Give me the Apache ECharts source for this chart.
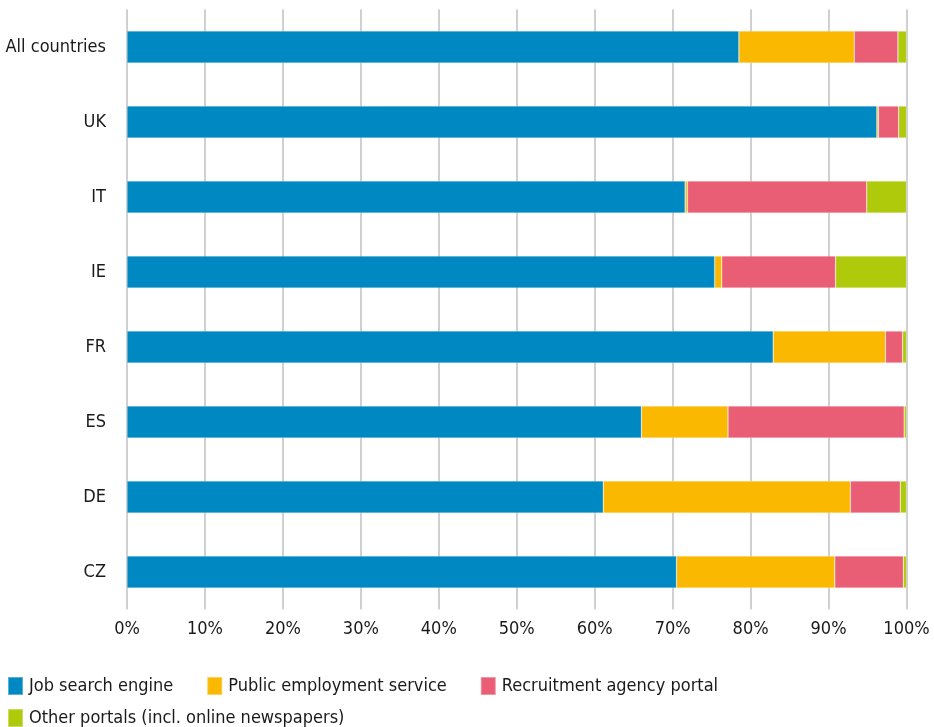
<!DOCTYPE html>
<html>
<head>
<meta charset="utf-8">
<script src="https://cdn.jsdelivr.net/npm/echarts@6/dist/echarts.min.js"></script>
<style>
html,body{margin:0;padding:0;background:#fff;}
#c{width:934px;height:727px;}
</style>
</head>
<body>
<div id="c"></div>
<script>
const categories = ['All countries', 'UK', 'IT', 'IE', 'FR', 'ES', 'DE', 'CZ'];
const jobSearchEngine = [78.5, 96.2, 71.6, 75.4, 82.9, 66.0, 61.1, 70.5];
const publicEmployment = [14.8, 0.2, 0.3, 0.9, 14.4, 11.1, 31.7, 20.3];
const recruitmentAgency = [5.6, 2.6, 23.0, 14.6, 2.2, 22.6, 6.4, 8.8];
const otherPortals = [1.1, 1.0, 5.1, 9.1, 0.5, 0.3, 0.8, 0.4];
const seriesNames = ['Job search engine', 'Public employment service', 'Recruitment agency portal', 'Other portals (incl. online newspapers)'];
const colors = ['#0088c3', '#fab900', '#ea5e75', '#afca0b'];

const font = "'Liberation Sans Narrow', 'DejaVu Sans Condensed', 'Roboto', sans-serif";
const chart = echarts.init(document.getElementById('c'), null, {renderer: 'canvas'});
const data = [jobSearchEngine, publicEmployment, recruitmentAgency, otherPortals];
const series = data.map((d, i) => ({
  name: seriesNames[i],
  type: 'bar',
  stack: 'total',
  barWidth: 32,
  data: d,
  itemStyle: {color: colors[i], borderColor: 'rgba(255,255,255,0.35)', borderWidth: 0.6},
  emphasis: {disabled: true}
}));
chart.setOption({
  animation: false,
  textStyle: {fontFamily: font},
  grid: {left: 127, right: 27.5, top: 9.5, height: 600, containLabel: false},
  xAxis: {
    type: 'value', min: 0, max: 100, interval: 10,
    axisLine: {show: false}, axisTick: {show: false},
    axisLabel: {formatter: '{value}%', fontSize: 18, color: '#1a1a1a', margin: 11, fontFamily: font},
    splitLine: {show: true, lineStyle: {color: '#d0d0d0', width: 2}}
  },
  yAxis: {
    type: 'category', data: categories, inverse: true,
    axisLine: {show: false}, axisTick: {show: false},
    axisLabel: {fontSize: 18, color: '#1a1a1a', margin: 21, fontFamily: font}
  },
  legend: [
    {
      data: seriesNames.slice(0, 3), left: 7, top: 676, padding: 0, itemWidth: 15, itemHeight: 18, itemGap: 33,
      icon: 'rect', textStyle: {fontSize: 18, color: '#1a1a1a', fontFamily: font, padding: [0,0,0,1]}
    },
    {
      data: seriesNames.slice(3), left: 7, top: 708, padding: 0, itemWidth: 15, itemHeight: 18,
      icon: 'rect', textStyle: {fontSize: 18, color: '#1a1a1a', fontFamily: font, padding: [0,0,0,1]}
    }
  ],
  series: series
});
</script>
</body>
</html>
